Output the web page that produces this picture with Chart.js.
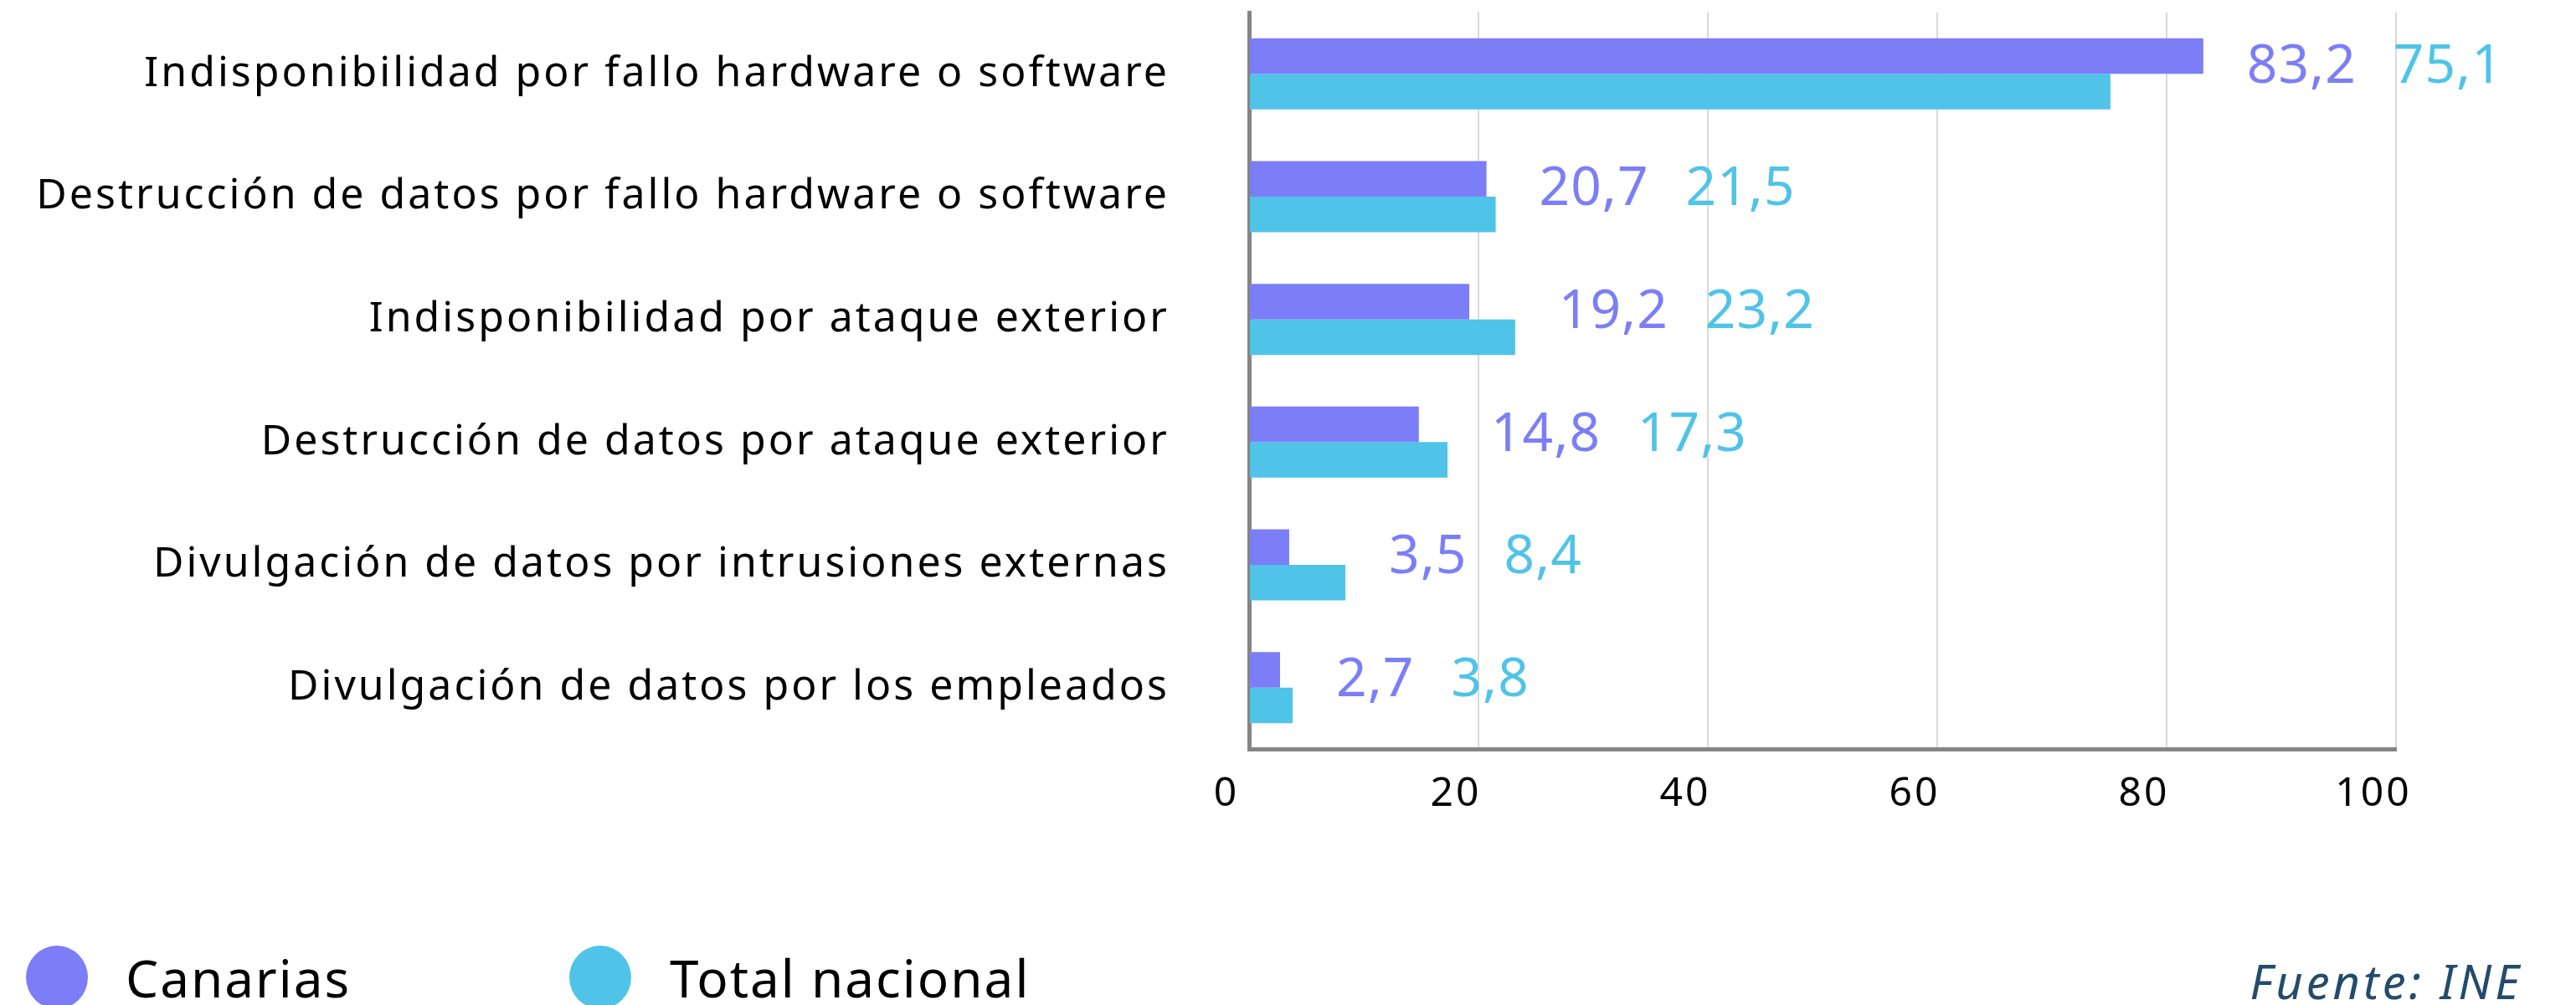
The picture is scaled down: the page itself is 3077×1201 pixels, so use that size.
<!DOCTYPE html>
<html>
<head>
<meta charset="utf-8">
<script src="https://cdn.jsdelivr.net/npm/chart.js@4"></script>
<style>
  body { margin: 0; background: #fff; }
  #wrap { position: relative; width: 3077px; height: 1201px; overflow: hidden; }
  .leg { position: absolute; top: 1137px; font-family: "Noto Sans", sans-serif; font-size: 62px; color: #000; line-height: 62px; letter-spacing: 2px; }
  .dot { position: absolute; top: 1130px; width: 74px; height: 76px; border-radius: 50%; }
  #source { position: absolute; right: 64px; top: 1145px; font-family: "Noto Sans", sans-serif; font-style: italic; font-size: 56px; line-height: 55px; color: #234b6b; letter-spacing: 4px; }
</style>
</head>
<body>
<div id="wrap">
  <canvas id="riskChart" width="3077" height="1201"></canvas>
  <div class="dot" style="left:31px; background:#7c7ef7;"></div>
  <div class="leg" style="left:150px;">Canarias</div>
  <div class="dot" style="left:680px; background:#50c3e8;"></div>
  <div class="leg" style="left:800px;">Total nacional</div>
  <div id="source">Fuente: INE</div>
</div>
<script>
const categories = [
  'Indisponibilidad por fallo hardware o software',
  'Destrucción de datos por fallo hardware o software',
  'Indisponibilidad por ataque exterior',
  'Destrucción de datos por ataque exterior',
  'Divulgación de datos por intrusiones externas',
  'Divulgación de datos por los empleados'
];
const canarias = [83.2, 20.7, 19.2, 14.8, 3.5, 2.7];
const totalNacional = [75.1, 21.5, 23.2, 17.3, 8.4, 3.8];
const xTicks = [0, 20, 40, 60, 80, 100];

const purple = '#7c7ef7';
const cyan = '#50c3e8';

function fmt(v) {
    return v.toFixed(1).replace('.', ',');
}

// wider lettering, closer to the original typeface
const spacing = {
    id: 'spacing',
    beforeDraw(chart) {
        chart.ctx.letterSpacing = '3px';
    }
};

// labels written after the longest bar of each pair
const valueLabels = {
    id: 'valueLabels',
    afterDatasetsDraw(chart) {
        let ctx = chart.ctx;
        let xs = chart.scales.x;
        let ys = chart.scales.y;
        ctx.save();
        ctx.letterSpacing = '1px';
        ctx.font = '64px "Noto Sans"';
        ctx.textBaseline = 'middle';
        ctx.textAlign = 'left';
        categories.forEach((c, i) => {
            let x = xs.getPixelForValue(Math.max(canarias[i], totalNacional[i])) + 52;
            let y = ys.getPixelForValue(i) - 8;
            let t1 = fmt(canarias[i]);
            ctx.fillStyle = purple;
            ctx.fillText(t1, x, y);
            x += ctx.measureText(t1).width + 44;
            ctx.fillStyle = cyan;
            ctx.fillText(fmt(totalNacional[i]), x, y);
        });
        ctx.restore();
    }
};

let ctx = document.getElementById('riskChart').getContext('2d');

let riskChart = new Chart(ctx, {
    type: 'bar',
    data: {
        labels: categories,
        datasets: [{
            label: 'Canarias',
            data: canarias,
            backgroundColor: purple,
            barPercentage: 1,
            categoryPercentage: 0.58
        }, {
            label: 'Total nacional',
            data: totalNacional,
            backgroundColor: cyan,
            barPercentage: 1,
            categoryPercentage: 0.58
        }]
    },
    options: {
        indexAxis: 'y',
        responsive: false,
        animation: false,
        devicePixelRatio: 1,
        layout: {
            padding: { top: 15, right: 215, bottom: 206, left: 0 }
        },
        plugins: {
            legend: { display: false },
            tooltip: { enabled: false }
        },
        scales: {
            x: {
                min: 0,
                max: 100,
                afterBuildTicks: scale => {
                    scale.ticks = xTicks.map(v => ({ value: v }));
                },
                afterFit: scale => { scale.height = 100; },
                grid: { color: '#d9d9d9', lineWidth: 2, drawTicks: false },
                border: { color: '#858585', width: 5 },
                ticks: {
                    color: '#000',
                    padding: 26,
                    labelOffset: -27,
                    font: { family: 'Noto Sans', size: 48 }
                }
            },
            y: {
                afterFit: scale => {
                    scale.width = 1492;
                    scale.paddingTop = 0;
                    scale.paddingBottom = 0;
                },
                grid: { display: false, drawTicks: false },
                border: { display: true, color: '#858585', width: 5 },
                ticks: {
                    color: '#000',
                    padding: 95,
                    font: { family: 'Noto Sans', size: 50 }
                }
            }
        }
    },
    plugins: [spacing, valueLabels]
});
</script>
</body>
</html>
